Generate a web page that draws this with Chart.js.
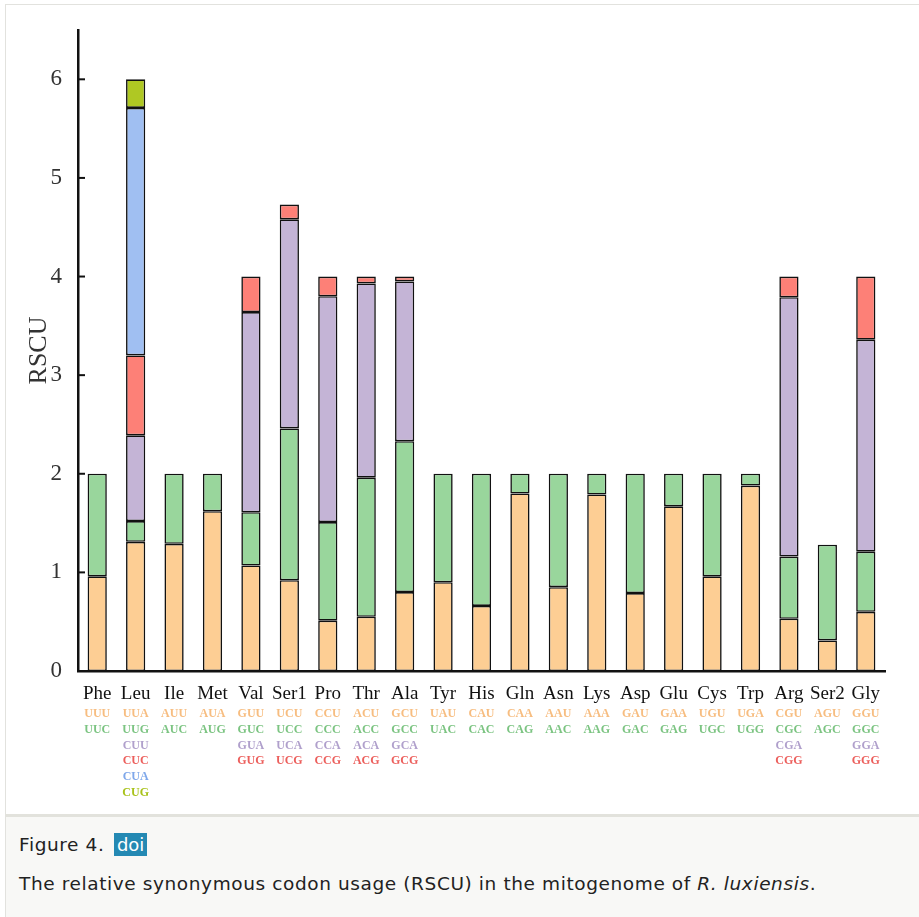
<!DOCTYPE html>
<html>
<head>
<meta charset="utf-8">
<script src="https://cdn.jsdelivr.net/npm/chart.js@4.4.1/dist/chart.umd.min.js"></script>
<style>
  body { margin: 0; background: #fff; width: 919px; height: 917px; overflow: hidden; position: relative; }
  #fig { position: absolute; left: 0; top: 0; width: 919px; height: 812px; }
  #frameTop { position: absolute; left: 5px; top: 4px; width: 914px; height: 1px; background: #e2e2de; }
  #frameLeft { position: absolute; left: 5px; top: 4px; width: 1px; height: 913px; background: #e2e2de; }
  #caption { position: absolute; left: 5px; top: 814px; width: 914px; height: 103px;
    background: #f8f8f6; border-top: 3px solid #e2e2dc; border-left: 1px solid #e2e2de;
    font-family: "DejaVu Sans", sans-serif; color: #222; letter-spacing: 0.6px; }
  #figno { position: absolute; left: 13px; top: 16px; font-size: 18.5px; line-height: 23px; }
  #doi { display: inline-block; background: #2489b3; color: #fff; padding: 0 3px; margin-left: 3px;
    line-height: 23px; font-size: 18px; letter-spacing: 0; }
  #captext { position: absolute; left: 13px; top: 55px; font-size: 18.5px; line-height: 23px; white-space: nowrap; }
</style>
</head>
<body>
<canvas id="fig" width="919" height="812"></canvas>
<div id="frameTop"></div>
<div id="frameLeft"></div>
<div id="caption">
  <div id="figno">Figure 4. <span id="doi">doi</span></div>
  <div id="captext">The relative synonymous codon usage (RSCU) in the mitogenome of <i>R. luxiensis</i>.</div>
</div>
<script>
// amino acids
const aminoAcids = ["Phe", "Leu", "Ile", "Met", "Val", "Ser1", "Pro", "Thr", "Ala", "Tyr", "His",
  "Gln", "Asn", "Lys", "Asp", "Glu", "Cys", "Trp", "Arg", "Ser2", "Gly"];

// RSCU of each codon, by position in the stack (1st codon at the bottom)
const codon1 = [0.96, 1.31, 1.29, 1.62, 1.07, 0.92, 0.51, 0.55, 0.80, 0.90, 0.66,
  1.80, 0.85, 1.79, 0.79, 1.67, 0.96, 1.88, 0.53, 0.31, 0.60];
const codon2 = [1.04, 0.21, 0.71, 0.38, 0.54, 1.54, 1.00, 1.41, 1.53, 1.10, 1.34,
  0.20, 1.15, 0.21, 1.21, 0.33, 1.04, 0.12, 0.63, 0.97, 0.61];
const codon3 = [0, 0.87, 0, 0, 2.03, 2.12, 2.29, 1.97, 1.62, 0, 0,
  0, 0, 0, 0, 0, 0, 0, 2.63, 0, 2.15];
const codon4 = [0, 0.81, 0, 0, 0.36, 0.15, 0.20, 0.07, 0.05, 0, 0,
  0, 0, 0, 0, 0, 0, 0, 0.21, 0, 0.64];
const codon5 = [0, 2.51, 0, 0, 0, 0, 0, 0, 0, 0, 0, 0, 0, 0, 0, 0, 0, 0, 0, 0, 0];
const codon6 = [0, 0.29, 0, 0, 0, 0, 0, 0, 0, 0, 0, 0, 0, 0, 0, 0, 0, 0, 0, 0, 0];

// codon names under each amino acid
const codonNames = [
  ["UUU", "UUC"],
  ["UUA", "UUG", "CUU", "CUC", "CUA", "CUG"],
  ["AUU", "AUC"],
  ["AUA", "AUG"],
  ["GUU", "GUC", "GUA", "GUG"],
  ["UCU", "UCC", "UCA", "UCG"],
  ["CCU", "CCC", "CCA", "CCG"],
  ["ACU", "ACC", "ACA", "ACG"],
  ["GCU", "GCC", "GCA", "GCG"],
  ["UAU", "UAC"],
  ["CAU", "CAC"],
  ["CAA", "CAG"],
  ["AAU", "AAC"],
  ["AAA", "AAG"],
  ["GAU", "GAC"],
  ["GAA", "GAG"],
  ["UGU", "UGC"],
  ["UGA", "UGG"],
  ["CGU", "CGC", "CGA", "CGG"],
  ["AGU", "AGC"],
  ["GGU", "GGC", "GGA", "GGG"]
];

const fillColors = ["#fdce94", "#99d69c", "#c4b4d6", "#fd8077", "#a0bff2", "#afc823"];
const textColors = ["#f7bd80", "#7cc482", "#b0a0cc", "#ec5f5c", "#7ea7ea", "#a8c21a"];

const series = [codon1, codon2, codon3, codon4, codon5, codon6];

const datasets = series.map((vals, i) => ({
  label: "codon " + (i + 1),
  data: vals,
  backgroundColor: fillColors[i],
  borderColor: "#111",
  borderWidth: 1.6,
  borderSkipped: false,
  barPercentage: 0.5,
  categoryPercentage: 1.0
}));

// inward y ticks and coloured codon labels
const extras = {
  id: "extras",
  afterDraw(chart) {
    const ctx = chart.ctx;
    const y = chart.scales.y;
    const x = chart.scales.x;
    ctx.save();
    ctx.strokeStyle = "#111";
    ctx.lineWidth = 2;
    y.ticks.forEach(t => {
      const py = y.getPixelForValue(t.value);
      ctx.beginPath();
      ctx.moveTo(y.right, py);
      ctx.lineTo(y.right + 7, py);
      ctx.stroke();
    });
    ctx.font = "bold 12px 'Liberation Serif'";
    ctx.textAlign = "center";
    ctx.textBaseline = "middle";
    codonNames.forEach((names, i) => {
      const px = x.getPixelForValue(i);
      names.forEach((n, j) => {
        ctx.fillStyle = textColors[j];
        ctx.fillText(n, px, 714 + j * 15.8);
      });
    });
    ctx.restore();
  }
};

new Chart(document.getElementById("fig").getContext("2d"), {
  type: "bar",
  data: { labels: aminoAcids, datasets },
  options: {
    responsive: false,
    animation: false,
    layout: { padding: { left: 0, top: 30, right: 34, bottom: 0 } },
    plugins: { legend: { display: false }, tooltip: { enabled: false } },
    scales: {
      x: {
        stacked: true,
        grid: { display: false },
        border: { display: true, color: "#111", width: 2.5 },
        ticks: {
          color: "#111",
          padding: 4,
          maxRotation: 0,
          autoSkip: false,
          font: { family: "'Liberation Serif'", size: 19 }
        },
        afterFit(scale) { scale.height = 141; }
      },
      y: {
        stacked: true,
        min: 0,
        max: 6.5,
        grid: { display: false },
        border: { display: true, color: "#111", width: 2.5 },
        ticks: {
          stepSize: 1,
          color: "#333",
          padding: 8,
          font: { family: "'Liberation Serif'", size: 23 }
        },
        afterBuildTicks(scale) {
          scale.ticks = scale.ticks.filter(t => Number.isInteger(t.value));
        },
        title: {
          display: true,
          text: "RSCU",
          color: "#333",
          padding: { top: 24, bottom: 0 },
          font: { family: "'Liberation Serif'", size: 26 }
        },
        afterFit(scale) { scale.width = 78; }
      }
    }
  },
  plugins: [extras]
});
</script>
</body>
</html>
